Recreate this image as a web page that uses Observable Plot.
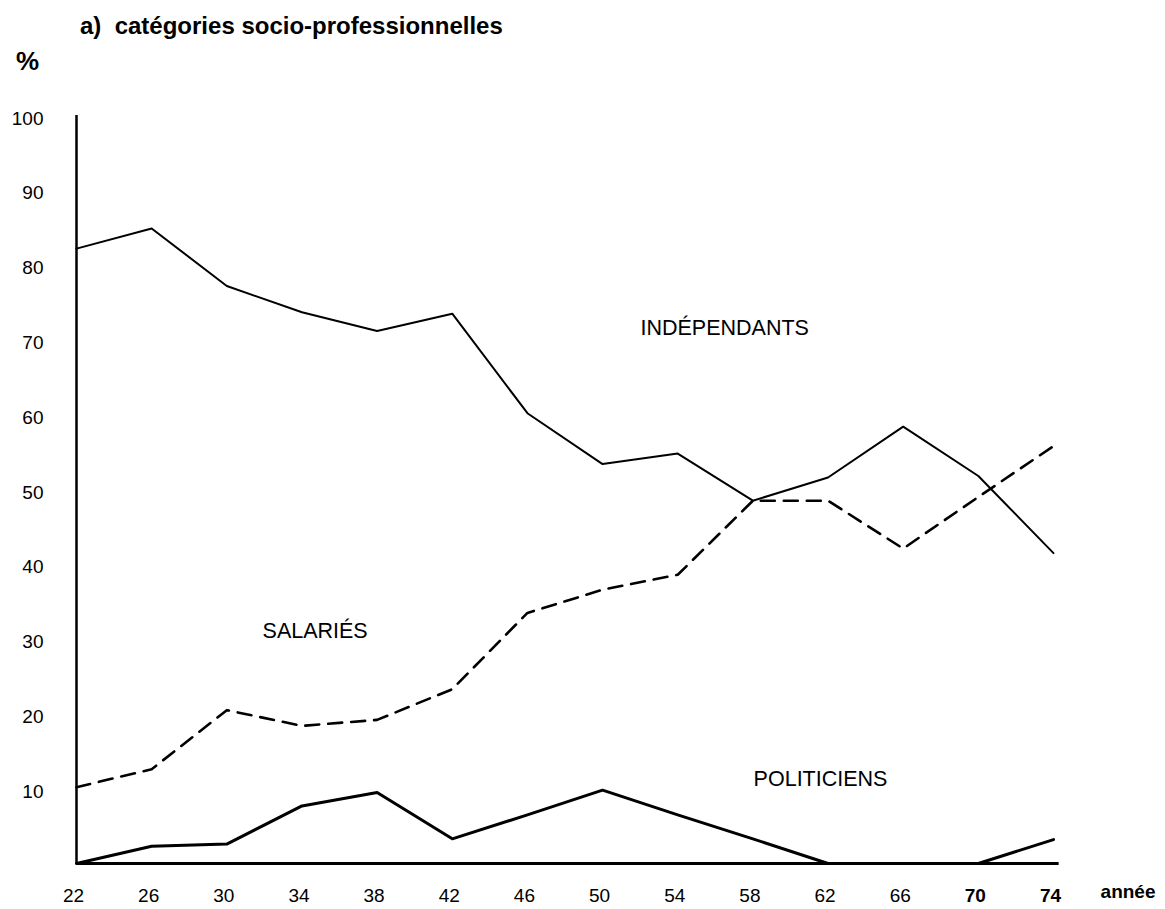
<!DOCTYPE html>
<html>
<head>
<meta charset="utf-8">
<script src="https://cdn.jsdelivr.net/npm/d3@7"></script>
<script src="https://cdn.jsdelivr.net/npm/@observablehq/plot@0.6"></script>
<style>
  html, body { margin: 0; padding: 0; background: #fff; }
  #wrap { position: relative; width: 1165px; height: 909px; overflow: hidden; font-family: "Liberation Sans", Arial, sans-serif; color: #000; }
  #title { position: absolute; left: 80px; top: 12px; font-size: 24px; font-weight: bold; white-space: pre; }
  #unit { position: absolute; left: 16px; top: 46px; font-size: 26px; font-weight: bold; }
  #chart { position: absolute; left: 0; top: 0; }
</style>
</head>
<body>
<div id="wrap">
  <div id="chart"></div>
  <div id="title">a)  catégories socio-professionnelles</div>
  <div id="unit">%</div>
</div>
<script>
// Years (x axis)
const years = [22, 26, 30, 34, 38, 42, 46, 50, 54, 58, 62, 66, 70, 74];
// Series values (%)
const independants = [82.2, 84.9, 77.2, 73.7, 71.2, 73.5, 60.2, 53.4, 54.8, 48.5, 51.6, 58.4, 51.8, 41.5];
const salaries     = [10.2, 12.6, 20.5, 18.4, 19.2, 23.3, 33.5, 36.6, 38.6, 48.5, 48.5, 42.1, 49.0, 55.8];
const politiciens  = [0, 2.3, 2.6, 7.7, 9.5, 3.3, 6.5, 9.8, 6.5, 3.3, 0, 0, 0, 3.2];
// Tick labels
const yTicks = [10, 20, 30, 40, 50, 60, 70, 80, 90, 100];
const xTicksRegular = [22, 26, 30, 34, 38, 42, 46, 50, 54, 58, 62, 66];
const xTicksBold = [70, 74];
// Inline series labels
const labelNames = ["INDÉPENDANTS", "SALARIÉS", "POLITICIENS"];
const labelYears = [56.5, 34.7, 61.6];
const labelValues = [71.6, 31.1, 11.3];

const toRows = (vals) => years.map((yr, i) => ({year: yr, value: vals[i]}));
const labels = labelNames.map((t, i) => ({text: t, year: labelYears[i], value: labelValues[i]}));

const chart = Plot.plot({
  width: 1165,
  height: 909,
  marginLeft: 76,
  marginRight: 112,
  marginTop: 115,
  marginBottom: 46,
  style: {fontFamily: "'Liberation Sans', Arial, sans-serif", fontSize: "19px", color: "#000", background: "transparent"},
  x: {domain: [22, 74]},
  y: {domain: [0, 100]},
  marks: [
    Plot.axisY(yTicks, {tickSize: 0, tickPadding: 33, fontSize: 19, dy: 3, label: null}),
    Plot.axisX(xTicksRegular, {tickSize: 0, tickPadding: 25, fontSize: 19, dx: -3, label: null}),
    Plot.axisX(xTicksBold, {tickSize: 0, tickPadding: 25, fontSize: 19, dx: -3, fontWeight: "bold", label: null}),
    Plot.ruleX([22], {y1: 0, y2: 100, stroke: "#000", strokeWidth: 2.5}),
    Plot.ruleY([0], {x1: 22, x2: 74.3, stroke: "#000", strokeWidth: 2.8}),
    Plot.line(toRows(independants), {x: "year", y: "value", stroke: "#000", strokeWidth: 2}),
    Plot.line(toRows(salaries), {x: "year", y: "value", stroke: "#000", strokeWidth: 2.6, strokeDasharray: "14,9"}),
    Plot.line(toRows(politiciens), {x: "year", y: "value", stroke: "#000", strokeWidth: 3}),
    Plot.text(labels, {x: "year", y: "value", text: "text", fontSize: 21.5, fill: "#000"}),
    Plot.text(["année"], {frameAnchor: "bottom-right", text: d => d, dx: 102, dy: 34, fontSize: 19, fontWeight: "bold", fill: "#000"})
  ]
});
document.getElementById("chart").appendChild(chart);
</script>
</body>
</html>
